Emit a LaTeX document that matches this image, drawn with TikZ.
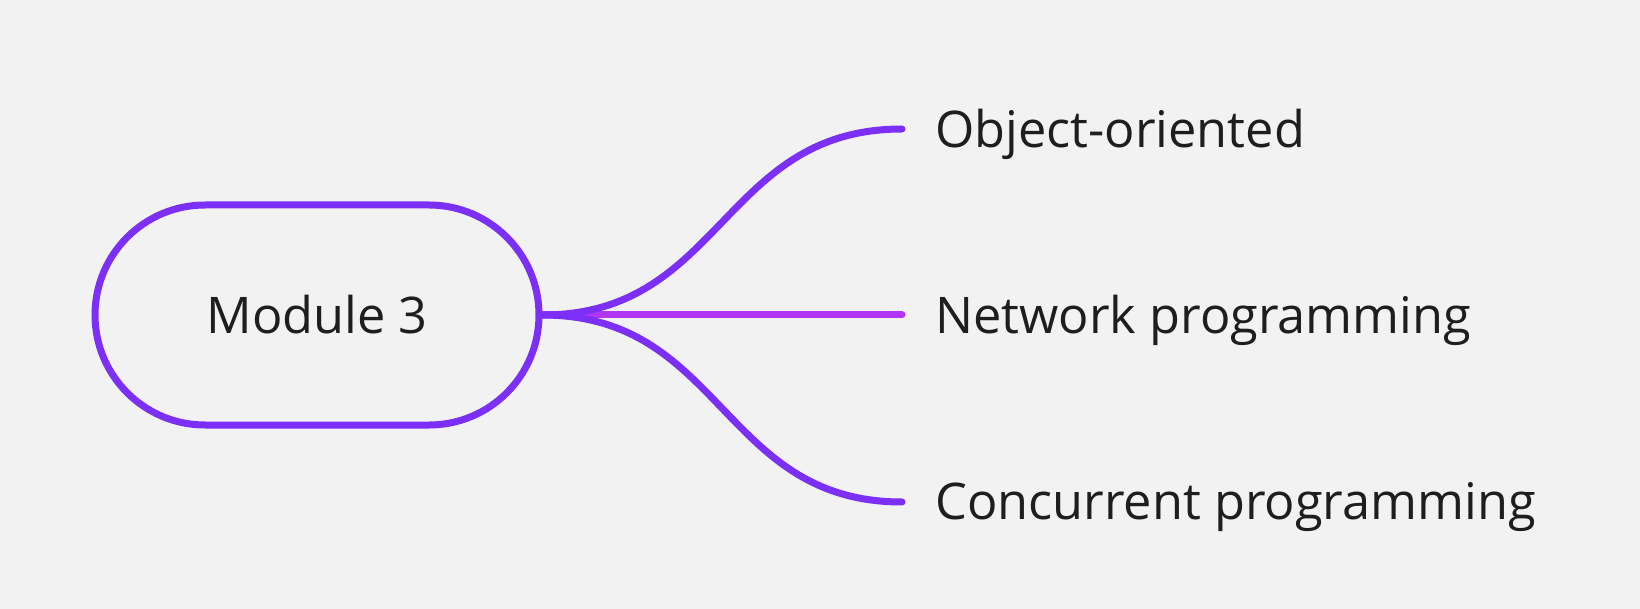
\documentclass[tikz,border=0pt]{standalone}
\usepackage{fontspec}
\setmainfont{Open Sans}
\usetikzlibrary{shapes.misc}
\definecolor{bg}{HTML}{F2F2F2}
\definecolor{violet}{HTML}{7B2FF7}
\definecolor{magen}{HTML}{B135F6}
\definecolor{ink}{HTML}{1E1E1E}
\begin{document}
\begin{tikzpicture}[x=1pt,y=1pt,
  pill/.style={draw=violet, line width=7pt, rounded rectangle, minimum width=444pt, minimum height=220pt, text=ink, font=\fontsize{50.5}{60}\selectfont, inner sep=0pt},
  leaf/.style={anchor=west, text=ink, font=\fontsize{50.5}{60}\selectfont, inner sep=0pt},
  branch/.style={line width=7pt, line cap=round, draw=violet},
  midbranch/.style={line width=7pt, line cap=round, draw=magen}]
\fill[bg] (0,0) rectangle (1640,-609);
\useasboundingbox (0,0) rectangle (1640,-609);
\node[pill] (m) at (317,-315) {\raisebox{-2pt}{Module 3}};
\coordinate (e1) at (902,-129);
\coordinate (e2) at (902,-315);
\coordinate (e3) at (902,-502);
\node[leaf] (t1) at (935,-134) {Object-oriented};
\node[leaf] (t2) at (935,-320) {Network programming};
\node[leaf] (t3) at (935,-507) {Concurrent programming};
\draw[midbranch] (m.east) -- (e2);
\draw[branch] (m.east) .. controls +(180,0) and +(-180,0) .. (e1);
\draw[branch] (m.east) .. controls +(180,0) and +(-180,0) .. (e3);
\end{tikzpicture}
\end{document}
